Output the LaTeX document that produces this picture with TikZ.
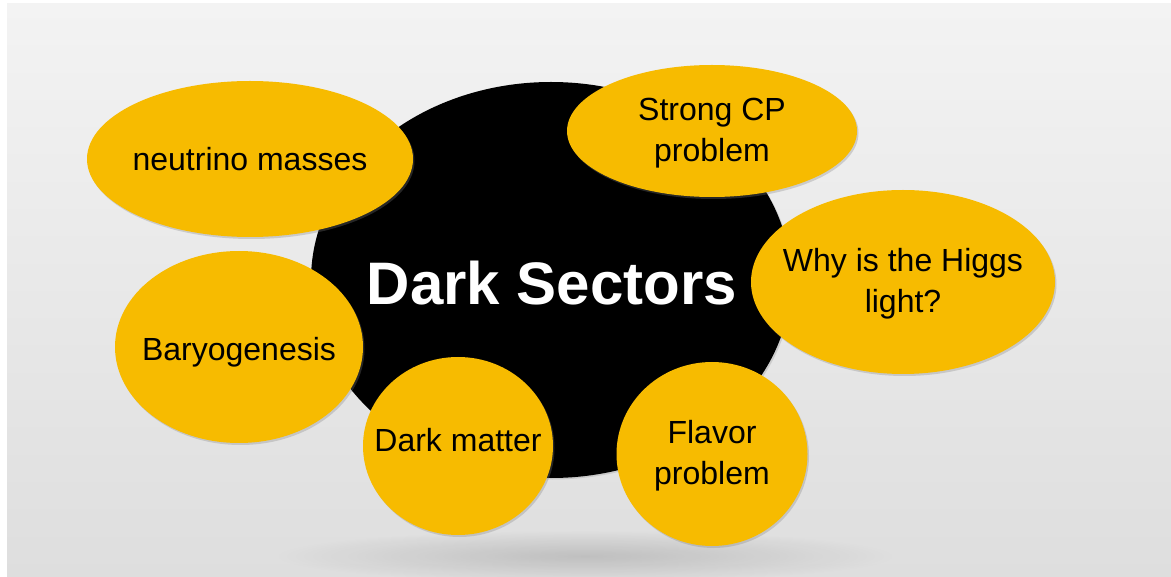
\documentclass[tikz,border=0pt]{standalone}
\usepackage{fontspec}
\setmainfont{Liberation Sans}
\usetikzlibrary{shapes.geometric,shadows,fadings}
\definecolor{bubbleyellow}{RGB}{247,187,0}
\definecolor{bgtop}{RGB}{243,243,243}
\definecolor{bgbottom}{RGB}{222,222,222}
\tikzfading[name=floorfade, inner color=transparent!0, outer color=transparent!100]
\begin{document}
\begin{tikzpicture}[x=1pt,y=-1pt,
  hubshape/.style={ellipse, fill=black, inner sep=0pt,
    drop shadow={shadow xshift=1.5pt, shadow yshift=-1.5pt, opacity=0.25}},
  bubble/.style={ellipse, fill=bubbleyellow, inner sep=0pt,
    drop shadow={shadow xshift=1.5pt, shadow yshift=-2pt, opacity=0.3}},
  bubtext/.style={font=\fontsize{32}{41}\selectfont, align=center, text=black, inner sep=0pt},
  hubtext/.style={font=\fontsize{60}{70}\selectfont\bfseries, text=white, inner sep=0pt},
  ]
  % page and backdrop
  \useasboundingbox (0,0) rectangle (1171,577);
  \fill[white] (0,0) rectangle (1171,577);
  \shade[top color=bgtop, bottom color=bgbottom] (7,4) rectangle (1171,577);
  % soft floor shadow beneath the cluster
  \fill[black, opacity=0.14, path fading=floorfade] (585,556) ellipse [x radius=310, y radius=26];

  % central disc
  \node[hubshape, minimum width=480pt, minimum height=396pt] (hub) at (551,280) {};

  % surrounding topics
  \node[bubble, minimum width=326pt, minimum height=156pt] (nu) at (250,159) {};
  \node[bubble, minimum width=290pt, minimum height=132pt] (cp) at (712,131) {};
  \node[bubble, minimum width=304pt, minimum height=184pt] (higgs) at (903,282) {};
  \node[bubble, minimum width=248pt, minimum height=192pt] (baryo) at (239,347) {};
  \node[bubble, minimum width=190pt, minimum height=178pt] (dm) at (458,446) {};
  \node[bubble, minimum width=191pt, minimum height=184pt] (flavor) at (712,454) {};

  % labels
  \node[hubtext] (hubtxt) at (552,283) {Dark Sectors};
  \node[bubtext] (nutxt) at (nu) {neutrino masses};
  \node[bubtext] (cptxt) at ([yshift=-2pt]cp) {Strong CP\\problem};
  \node[bubtext] (higgstxt) at ([yshift=-2pt]higgs) {Why is the Higgs\\light?};
  \node[bubtext] (baryotxt) at ([yshift=-5pt]baryo) {Baryogenesis};
  \node[bubtext] (dmtxt) at ([yshift=6pt]dm) {Dark matter};
  \node[bubtext] (flavortxt) at ([yshift=-2pt]flavor) {Flavor\\problem};
\end{tikzpicture}
\end{document}
